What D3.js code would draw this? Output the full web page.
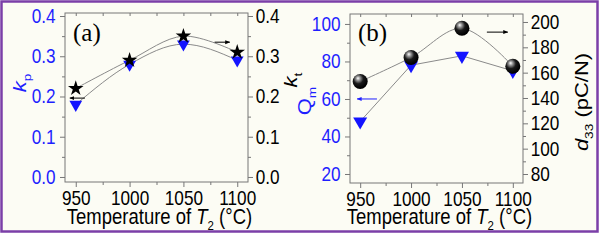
<!DOCTYPE html>
<html>
<head>
<meta charset="utf-8">
<script src="https://cdn.jsdelivr.net/npm/d3@7"></script>
<style>
  body { margin: 0; background: #fff; }
</style>
</head>
<body>
<svg id="chart"></svg>
<script>
// data
const temps = [950, 1000, 1050, 1100];
const kp = [0.18, 0.28, 0.33, 0.29];
const kt = [0.22, 0.29, 0.35, 0.31];
const qm = [48, 78, 83, 75];
const d33 = [153, 172, 195, 165];

const xTicks = [950, 1000, 1050, 1100];
const kTicks = [0.0, 0.1, 0.2, 0.3, 0.4];
const qmTicks = [20, 40, 60, 80, 100];
const d33Ticks = [80, 100, 120, 140, 160, 180, 200];

const width = 602;
const height = 243;
const sx = 0.86; // text is a bit narrow in the picture
const sans = '"Liberation Sans", Arial, sans-serif';

const svg = d3.select('#chart')
    .attr('width', width)
    .attr('height', height);

const defs = svg.append('defs');
const grad = defs.append('radialGradient')
    .attr('id', 'ball')
    .attr('cx', '40%').attr('cy', '35%').attr('r', '60%')
    .attr('fx', '35%').attr('fy', '28%');
grad.append('stop').attr('offset', '0%').attr('stop-color', '#ffffff');
grad.append('stop').attr('offset', '22%').attr('stop-color', '#9a9a9a');
grad.append('stop').attr('offset', '55%').attr('stop-color', '#1a1a1a');
grad.append('stop').attr('offset', '100%').attr('stop-color', '#000');

['#000', '#1f1fff'].forEach((c, i) => {
    defs.append('marker')
        .attr('id', 'arr' + i)
        .attr('viewBox', '0 0 10 10')
        .attr('refX', 9).attr('refY', 5)
        .attr('markerWidth', 5).attr('markerHeight', 5)
        .attr('orient', 'auto')
        .append('path')
        .attr('d', 'M0,1L10,5L0,9z')
        .attr('fill', c);
});

// background and purple frame
svg.append('rect')
    .attr('x', 1.5).attr('y', 1.5)
    .attr('width', 596).attr('height', 230)
    .attr('fill', '#fcfcf4')
    .attr('stroke', '#7b3fa8')
    .attr('stroke-width', 2.5);

function label(g, x, y, rot, parts, size, color, anchor) {
    const t = g.append('text')
        .attr('transform', `translate(${x},${y}) scale(${sx},1) rotate(${rot})`)
        .attr('text-anchor', anchor || 'middle')
        .style('font-family', sans)
        .attr('font-size', size)
        .attr('fill', color);
    parts.forEach(p => {
        const s = t.append('tspan').text(p.t);
        if (p.i) s.attr('font-style', 'italic');
        if (p.sub) s.attr('font-size', size * 0.62).attr('dy', size * 0.28);
        if (p.up) s.attr('dy', -size * 0.28);
    });
    return t;
}

function styleAxis(g, color) {
    g.select('.domain').remove();
    g.selectAll('.tick line').attr('stroke', '#777');
    g.selectAll('.tick text')
        .attr('font-size', 20)
        .style('font-family', sans)
        .attr('fill', color)
        .attr('transform', `scale(${sx},1)`);
}

function drawPanel(cfg) {
    const g = svg.append('g');
    const x = d3.scaleLinear().domain([940, 1110]).range([cfg.left, cfg.right]);
    const yL = d3.scaleLinear().domain(cfg.yLdom).range([cfg.bottom, cfg.top]);
    const yR = d3.scaleLinear().domain(cfg.yRdom).range([cfg.bottom, cfg.top]);

    // minor ticks
    const minorX = d3.range(950, 1101, 25).filter(v => !xTicks.includes(v));
    g.append('g').attr('transform', `translate(0,${cfg.bottom})`)
        .call(d3.axisBottom(x).tickValues(minorX).tickSize(3).tickFormat(''))
        .call(a => styleAxis(a, '#000'));
    g.append('g').attr('transform', `translate(0,${cfg.top})`)
        .call(d3.axisTop(x).tickValues(xTicks.concat(minorX)).tickSize(-3).tickFormat(''))
        .call(a => styleAxis(a, '#000'));
    g.append('g').attr('transform', `translate(${cfg.left},0)`)
        .call(d3.axisLeft(yL).tickValues(cfg.minorL).tickSize(3).tickFormat(''))
        .call(a => styleAxis(a, '#000'));
    g.append('g').attr('transform', `translate(${cfg.right},0)`)
        .call(d3.axisRight(yR).tickValues(cfg.minorR).tickSize(3).tickFormat(''))
        .call(a => styleAxis(a, '#000'));

    // major axes
    g.append('g').attr('transform', `translate(0,${cfg.bottom})`)
        .call(d3.axisBottom(x).tickValues(xTicks).tickSize(5).tickPadding(4).tickFormat(d3.format('d')))
        .call(a => styleAxis(a, '#000'));
    g.append('g').attr('transform', `translate(${cfg.left},0)`)
        .call(d3.axisLeft(yL).tickValues(cfg.ticksL).tickSize(5).tickPadding(6).tickFormat(cfg.fmtL))
        .call(a => styleAxis(a, '#1f1fff'));
    g.append('g').attr('transform', `translate(${cfg.right},0)`)
        .call(d3.axisRight(yR).tickValues(cfg.ticksR).tickSize(5).tickPadding(4).tickFormat(cfg.fmtR))
        .call(a => styleAxis(a, '#000'));

    g.append('rect')
        .attr('x', cfg.left).attr('y', cfg.top)
        .attr('width', cfg.right - cfg.left).attr('height', cfg.bottom - cfg.top)
        .attr('fill', 'none').attr('stroke', '#777').attr('stroke-width', 1);

    // lines
    const lineL = d3.line().x((d, i) => x(temps[i])).y(d => yL(d)).curve(cfg.curveL);
    const lineR = d3.line().x((d, i) => x(temps[i])).y(d => yR(d)).curve(d3.curveCatmullRom);
    g.append('path').attr('d', lineL(cfg.valL)).attr('fill', 'none').attr('stroke', '#8a8a8a').attr('stroke-width', 1);
    g.append('path').attr('d', lineR(cfg.valR)).attr('fill', 'none').attr('stroke', '#8a8a8a').attr('stroke-width', 1);

    // markers
    g.selectAll('.tri').data(cfg.valL).enter().append('path')
        .attr('d', d3.symbol(d3.symbolTriangle, cfg.triSize)())
        .attr('transform', (d, i) => `translate(${x(temps[i])},${yL(d)}) rotate(180)`)
        .attr('fill', '#1414ff');
    if (cfg.ball) {
        g.selectAll('.ball').data(cfg.valR).enter().append('circle')
            .attr('cx', (d, i) => x(temps[i])).attr('cy', d => yR(d))
            .attr('r', 7.5).attr('fill', 'url(#ball)');
    } else {
        g.selectAll('.star').data(cfg.valR).enter().append('path')
            .attr('d', d3.symbol(d3.symbolStar, 75)())
            .attr('transform', (d, i) => `translate(${x(temps[i])},${yR(d)})`)
            .attr('fill', '#000');
    }

    // arrows
    g.append('line')
        .attr('x1', x(cfg.arrL[1])).attr('x2', x(cfg.arrL[0]))
        .attr('y1', yL(cfg.arrL[2])).attr('y2', yL(cfg.arrL[2]))
        .attr('stroke', cfg.arrLColor).attr('stroke-width', 1)
        .attr('marker-end', cfg.arrLColor === '#000' ? 'url(#arr0)' : 'url(#arr1)');
    g.append('line')
        .attr('x1', x(cfg.arrR[0])).attr('x2', x(cfg.arrR[1]))
        .attr('y1', yR(cfg.arrR[2])).attr('y2', yR(cfg.arrR[2]))
        .attr('stroke', '#000').attr('stroke-width', 1)
        .attr('marker-end', 'url(#arr0)');

    // panel tag
    g.append('text')
        .attr('x', cfg.left + 8).attr('y', 41)
        .style('font-family', '"Liberation Serif", "Times New Roman", serif')
        .attr('font-size', 25)
        .text(cfg.tag);

    // x title
    label(g, (cfg.left + cfg.right) / 2 + 3, 224, 0,
        [{t: 'Temperature of '}, {t: 'T', i: true}, {t: '2', sub: true}, {t: ' (°C)', up: true}], 21.5, '#000');
    cfg.titles(g);
}

drawPanel({
    tag: '(a)', left: 65, right: 248, top: 13, bottom: 182,
    yLdom: [-0.0125, 0.4075], yRdom: [-0.0125, 0.4075],
    ticksL: kTicks, ticksR: kTicks,
    minorL: [0.05, 0.15, 0.25, 0.35], minorR: [0.05, 0.15, 0.25, 0.35],
    fmtL: d3.format('.1f'), fmtR: d3.format('.1f'),
    valL: kp, valR: kt, curveL: d3.curveMonotoneX,
    triSize: 70, ball: false,
    arrL: [944.5, 958.5, 0.196], arrLColor: '#000',
    arrR: [1079, 1093, 0.335],
    titles: g => {
        label(g, 26, 83, -90, [{t: 'k', i: true}, {t: 'p', sub: true}], 22, '#1f1fff');
        label(g, 297, 80, -90, [{t: 'k', i: true}, {t: 't', sub: true}], 22, '#000');
    }
});

drawPanel({
    tag: '(b)', left: 350, right: 523, top: 14, bottom: 183,
    yLdom: [15.2, 105.3], yRdom: [72.9, 206.3],
    ticksL: qmTicks, ticksR: d33Ticks,
    minorL: [30, 50, 70, 90], minorR: [90, 110, 130, 150, 170, 190],
    fmtL: d3.format('d'), fmtR: d3.format('d'),
    valL: qm, valR: d33, curveL: d3.curveLinear,
    triSize: 85, ball: true,
    arrL: [947, 966.5, 60], arrLColor: '#1f1fff',
    arrR: [1074.5, 1095, 192],
    titles: g => {
        label(g, 311, 101, -90, [{t: 'Q'}, {t: 'm', sub: true}], 22, '#1f1fff');
        label(g, 588, 102, -90, [{t: 'd', i: true}, {t: '33', sub: true}, {t: ' (pC/N)', up: true}], 22, '#000');
    }
});
</script>
</body>
</html>
